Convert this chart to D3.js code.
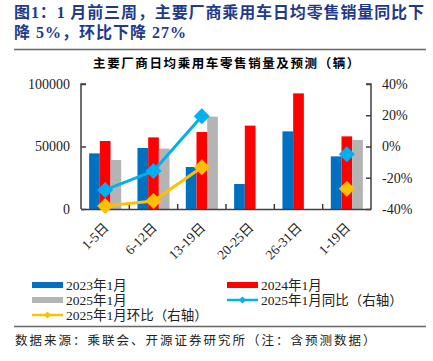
<!DOCTYPE html>
<html><head><meta charset="utf-8">
<script src="https://cdn.jsdelivr.net/npm/d3@7/dist/d3.min.js"></script>
<style>
html,body{margin:0;padding:0;background:#fff;}
svg{display:block;}
</style></head>
<body>
<script>
const categories = ["1-5日","6-12日","13-19日","20-25日","26-31日","1-19日"];
const seriesNames = ["2023年1月","2024年1月","2025年1月"];
const s2023 = [44500, 48800, 33600, 20000, 62100, 42100];
const s2024 = [54400, 57300, 61600, 66700, 92500, 58100];
const s2025 = [39200, 48300, 73900, null, null, 55200];
const yoy = [-27.8, -15.7, 19.4, null, null, -5];
const mom = [-38, -34.9, -13.3, null, null, -27];
const leftTicks = [0, 50000, 100000];
const rightTicks = [-40, -20, 0, 20, 40];

const W = 433, H = 361;
const serif = "'Liberation Serif','Times New Roman','Noto Sans CJK SC',serif";
const cjk = "'Noto Sans CJK SC','Liberation Serif',sans-serif";
const colors = ["#0070C0", "#FF0000", "#B4B4B4"];
const yoyColor = "#00B0F0", momColor = "#FFC000";

const svg = d3.select("body").append("svg").attr("width", W).attr("height", H);

// Title
const titleColor = "#1F3A8A";
svg.append("text").attr("x", 14).attr("y", 18)
  .attr("font-family", serif).attr("font-weight", "bold").attr("font-size", 16)
  .attr("fill", titleColor).attr("textLength", 410).attr("lengthAdjust", "spacing")
  .text("图1：1 月前三周，主要厂商乘用车日均零售销量同比下");
svg.append("text").attr("x", 14).attr("y", 38)
  .attr("font-family", serif).attr("font-weight", "bold").attr("font-size", 16)
  .attr("fill", titleColor).attr("letter-spacing", 1)
  .text("降 5%，环比下降 27%");
svg.append("line").attr("x1", 14).attr("x2", 426).attr("y1", 49.5).attr("y2", 49.5)
  .attr("stroke", "#666").attr("stroke-width", 1.5);

// Chart title
svg.append("text").attr("x", 227).attr("y", 68).attr("text-anchor", "middle")
  .attr("font-family", cjk).attr("font-weight", "bold").attr("font-size", 12.5)
  .attr("letter-spacing", 1.6).attr("fill", "#000")
  .text("主要厂商日均乘用车零售销量及预测（辆）");

const L = 81, R = 371, T = 84, B = 209;
const x = d3.scaleBand().domain(categories).range([L, R]).padding(0);
const xs = d3.scaleBand().domain(seriesNames).range([0, x.bandwidth()]).paddingInner(0).paddingOuter(0.76);
const y = d3.scaleLinear().domain([0, 100000]).range([B, T]);
const y2 = d3.scaleLinear().domain([-40, 40]).range([B, T]);

const series = [s2023, s2024, s2025];
const g = svg.append("g");
series.forEach((arr, si) => {
  g.selectAll(null).data(categories.map((c, i) => ({c, v: arr[i]})).filter(d => d.v != null))
    .enter().append("rect")
    .attr("x", d => x(d.c) + xs(seriesNames[si]))
    .attr("width", xs.bandwidth())
    .attr("y", d => y(d.v))
    .attr("height", d => B - y(d.v))
    .attr("fill", colors[si]);
});

// Axes
const axisColor = "#404040";
const ax = svg.append("g").attr("font-family", serif).attr("font-size", 14);
const leftAxis = ax.append("g").attr("transform", `translate(${L},0)`)
  .call(d3.axisRight(y).tickValues(leftTicks).tickSize(5).tickFormat(""));
const rightAxis = ax.append("g").attr("transform", `translate(${R},0)`)
  .call(d3.axisLeft(y2).tickValues(rightTicks).tickSize(5).tickFormat(""));
const bottomAxis = ax.append("g").attr("transform", `translate(0,${B})`)
  .call(d3.axisTop(x).tickValues([]).tickSizeOuter(0));
[leftAxis, rightAxis, bottomAxis].forEach(a => {
  a.selectAll("path,line").attr("stroke", axisColor).attr("stroke-width", 1.5);
});
leftAxis.select(".domain").attr("d", `M5,${T}H0V${B}`);
rightAxis.select(".domain").attr("d", `M-5,${T}H0V${B}`);
// group boundary ticks
const bounds = categories.map(c => x(c)).slice(1);
svg.append("g").selectAll("line").data(bounds).enter().append("line")
  .attr("x1", d => d).attr("x2", d => d).attr("y1", B).attr("y2", B - 5)
  .attr("stroke", axisColor).attr("stroke-width", 1.5);

// tick labels
svg.append("g").selectAll("text").data(leftTicks).enter().append("text")
  .attr("x", 70).attr("y", d => y(d)).attr("dy", "0.35em").attr("text-anchor", "end")
  .attr("font-family", serif).attr("font-size", 14).attr("fill", "#222").text(d => d);
svg.append("g").selectAll("text").data(rightTicks).enter().append("text")
  .attr("x", 382).attr("y", d => y2(d)).attr("dy", "0.35em").attr("text-anchor", "start")
  .attr("font-family", serif).attr("font-size", 14).attr("fill", "#222").text(d => d + "%");
svg.append("g").selectAll("text").data(categories).enter().append("text")
  .attr("transform", d => `translate(${x(d) + x.bandwidth()/2 + 1},${B + 16}) rotate(-45)`)
  .attr("text-anchor", "end").attr("dy", "0.35em")
  .attr("font-family", serif).attr("font-size", 13.5).attr("fill", "#222").text(d => d);

// Lines
const diamond = s => `M0,${-s}L${s},0L0,${s}L${-s},0Z`;
function drawLine(vals, color) {
  const pts = categories.map((c, i) => ({c, v: vals[i]}));
  const line = d3.line().defined(d => d.v != null)
    .x(d => x(d.c) + x.bandwidth()/2).y(d => y2(d.v));
  svg.append("path").datum(pts).attr("d", line).attr("fill", "none")
    .attr("stroke", color).attr("stroke-width", 3);
  svg.append("g").selectAll("path").data(pts.filter(d => d.v != null)).enter().append("path")
    .attr("transform", d => `translate(${x(d.c) + x.bandwidth()/2},${y2(d.v)})`)
    .attr("d", diamond(8)).attr("fill", color);
}
drawLine(yoy, yoyColor);
drawLine(mom, momColor);

// Legend
const lg = svg.append("g").attr("font-family", serif).attr("font-size", 13.5).attr("fill", "#222");
const legendItems = [
  {name: "2023年1月", type: "bar", color: colors[0], x: 32, y: 285},
  {name: "2024年1月", type: "bar", color: colors[1], x: 227, y: 285},
  {name: "2025年1月", type: "bar", color: colors[2], x: 32, y: 300},
  {name: "2025年1月同比（右轴）", type: "line", color: yoyColor, x: 227, y: 300},
  {name: "2025年1月环比（右轴）", type: "line", color: momColor, x: 32, y: 315}
];
legendItems.forEach(it => {
  if (it.type === "bar") {
    lg.append("rect").attr("x", it.x).attr("y", it.y - 3).attr("width", 31).attr("height", 6).attr("fill", it.color);
  } else {
    lg.append("line").attr("x1", it.x).attr("x2", it.x + 31).attr("y1", it.y).attr("y2", it.y)
      .attr("stroke", it.color).attr("stroke-width", 2.5);
    lg.append("path").attr("transform", `translate(${it.x + 15.5},${it.y})`).attr("d", diamond(3.5)).attr("fill", it.color);
  }
  lg.append("text").attr("x", it.x + 34).attr("y", it.y).attr("dy", "0.35em").text(it.name);
});

// Bottom line and source
svg.append("line").attr("x1", 14).attr("x2", 426).attr("y1", 326.5).attr("y2", 326.5)
  .attr("stroke", "#666").attr("stroke-width", 1.5);
svg.append("text").attr("x", 15).attr("y", 341).attr("dy", "0.35em")
  .attr("font-family", cjk).attr("font-size", 12.5).attr("letter-spacing", 2).attr("fill", "#222")
  .text("数据来源：乘联会、开源证券研究所（注：含预测数据）");
</script>
</body></html>
